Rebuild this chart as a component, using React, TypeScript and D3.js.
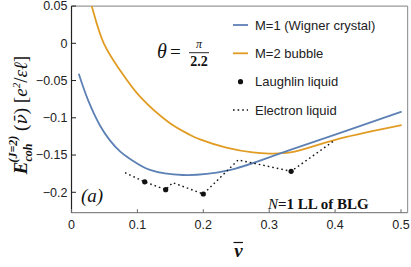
import React from "react";
import * as d3 from "d3";

const blueX = [0.011, 0.025, 0.043, 0.058, 0.074, 0.089, 0.119, 0.169, 0.236, 0.332, 0.501];
const blueY = [-0.041, -0.076, -0.11, -0.13, -0.1455, -0.1553, -0.17, -0.1768, -0.171, -0.1432, -0.0918];

const orangeX = [0.026, 0.0307, 0.049, 0.075, 0.104, 0.1495, 0.18, 0.195, 0.235, 0.275, 0.3, 0.332, 0.408, 0.501];
const orangeY = [0.066, 0.05, 0.0, -0.038, -0.0717, -0.1074, -0.123, -0.129, -0.14, -0.1465, -0.148, -0.1465, -0.1275, -0.1097];

const liquidX = [0.0812, 0.1111, 0.1429, 0.1536, 0.2, 0.253, 0.3333, 0.4];
const liquidY = [-0.1737, -0.186, -0.1965, -0.1871, -0.2023, -0.1566, -0.1718, -0.1298];

const laughlinX = [0.1111, 0.1429, 0.2, 0.3333];
const laughlinY = [-0.186, -0.1965, -0.2023, -0.1718];

const xTicks = [0, 0.1, 0.2, 0.3, 0.4, 0.5];
const xTickLabels = ["0", "0.1", "0.2", "0.3", "0.4", "0.5"];
const yTicks = [0.05, 0, -0.05, -0.1, -0.15, -0.2];
const yTickLabels = ["0.05", "0", "\u22120.05", "\u22120.1", "\u22120.15", "\u22120.2"];

const legendLabels = ["M=1 (Wigner crystal)", "M=2 bubble", "Laughlin liquid", "Electron liquid"];

const BLUE = "#5E81B5";
const ORANGE = "#E19C24";

export default function App() {
  const W = 411, H = 267;
  const x = d3.scaleLinear().domain([0, 0.51]).range([71.5, 407.6]);
  const y = d3.scaleLinear().domain([-0.2274, 0.05]).range([212.7, 6.05]);
  const left = x(0), right = x(0.51), top = y(0.05), bottom = y(-0.2274);

  const smooth = d3
    .line<[number, number]>()
    .x((d) => x(d[0]))
    .y((d) => y(d[1]))
    .curve(d3.curveCatmullRom.alpha(0.5));
  const straight = d3
    .line<[number, number]>()
    .x((d) => x(d[0]))
    .y((d) => y(d[1]));

  const blue = smooth(blueX.map((v, i) => [v, blueY[i]] as [number, number])) || "";
  const orange = smooth(orangeX.map((v, i) => [v, orangeY[i]] as [number, number])) || "";
  const liquid = straight(liquidX.map((v, i) => [v, liquidY[i]] as [number, number])) || "";

  const serif = "'Liberation Serif', 'DejaVu Serif', serif";
  const sans = "'Liberation Sans', Arial, sans-serif";
  const legY = [25, 53.3, 81.7, 110];

  return (
    <svg width={W} height={H} style={{ position: "absolute", left: 0, top: 0 }} xmlns="http://www.w3.org/2000/svg">
      <rect x={0} y={0} width={W} height={H} fill="#fff" />
      <defs>
        <clipPath id="plot">
          <rect x={left} y={top} width={right - left} height={bottom - top} />
        </clipPath>
      </defs>
      {/* frame */}
      <line x1={left} x2={right} y1={top} y2={top} stroke="#999" strokeWidth={1.2} />
      <line x1={right} x2={right} y1={top} y2={bottom} stroke="#999" strokeWidth={1.2} />
      <line x1={left} x2={right} y1={bottom} y2={bottom} stroke="#888" strokeWidth={1.2} />
      <line x1={left} x2={left} y1={top} y2={bottom} stroke="#222" strokeWidth={1.2} />

      {/* y ticks */}
      {yTicks.map((t, i) => (
        <g key={"y" + i}>
          <line x1={left} x2={left + 4.5} y1={y(t)} y2={y(t)} stroke="#222" strokeWidth={1} />
          <text x={left - 4} y={y(t)} dy="0.35em" textAnchor="end" fontFamily={sans} fontSize={12.5} fill="#222">
            {yTickLabels[i]}
          </text>
        </g>
      ))}
      {/* x ticks */}
      {xTicks.map((t, i) => (
        <g key={"x" + i}>
          <line x1={x(t)} x2={x(t)} y1={bottom} y2={bottom - 3.5} stroke="#666" strokeWidth={1} />
          <text x={x(t)} y={bottom + 12} dy="0.35em" textAnchor="middle" fontFamily={sans} fontSize={12.5} fill="#222">
            {xTickLabels[i]}
          </text>
        </g>
      ))}

      <g clipPath="url(#plot)">
        <path d={orange} fill="none" stroke={ORANGE} strokeWidth={1.8} />
        <path d={blue} fill="none" stroke={BLUE} strokeWidth={1.8} />
        <path d={liquid} fill="none" stroke="#111" strokeWidth={1.4} strokeDasharray="1.6,3" />
        {laughlinX.map((v, i) => (
          <circle key={"l" + i} cx={x(v)} cy={y(laughlinY[i])} r={2.6} fill="#111" />
        ))}
      </g>

      {/* legend */}
      <line x1={233} x2={248} y1={legY[0]} y2={legY[0]} stroke={BLUE} strokeWidth={1.8} />
      <line x1={233} x2={248} y1={legY[1]} y2={legY[1]} stroke={ORANGE} strokeWidth={1.8} />
      <circle cx={240.5} cy={legY[2]} r={2.6} fill="#111" />
      <line x1={233} x2={248} y1={legY[3]} y2={legY[3]} stroke="#111" strokeWidth={1.4} strokeDasharray="1.6,3" />
      {legendLabels.map((s, i) => (
        <text key={"t" + i} x={255} y={legY[i]} dy="0.35em" fontFamily={sans} fontSize={13} fill="#222">
          {s}
        </text>
      ))}

      {/* theta annotation */}
      <text x={157} y={58} fontFamily={serif} fontSize={20} fontStyle="italic" fill="#111">θ</text>
      <text x={170} y={58} fontFamily={serif} fontSize={19} fill="#111">=</text>
      <text x={199} y={48} textAnchor="middle" fontFamily={serif} fontSize={12} fontStyle="italic" fill="#111">π</text>
      <line x1={189} x2={209} y1={52.7} y2={52.7} stroke="#111" strokeWidth={0.9} />
      <text x={199} y={66} textAnchor="middle" fontFamily={serif} fontSize={14} fontWeight="bold" fill="#111">2.2</text>

      {/* (a) */}
      <text x={81} y={202} fontFamily={serif} fontSize={19} fontStyle="italic" fill="#111">(a)</text>

      {/* N=1 LL of BLG */}
      <text x={268} y={209} fontFamily={serif} fontSize={15} fill="#111">
        <tspan fontStyle="italic">N</tspan>
        <tspan fontWeight="bold">=1 LL of BLG</tspan>
      </text>

      {/* x label */}
      <text x={238.5} y={257} textAnchor="middle" fontFamily={serif} fontSize={19} fontStyle="italic" fontWeight="bold" fill="#111">
        ν
      </text>
      <line x1={233.5} x2={243} y1={242.5} y2={242.5} stroke="#111" strokeWidth={1.2} />

      {/* y label */}
      <text
        transform="translate(27,115) rotate(-90)"
        textAnchor="middle"
        fontFamily={serif}
        fontSize={19}
        fill="#111"
      >
        <tspan fontWeight="bold" fontStyle="italic">E</tspan>
        <tspan fontSize={12} fontWeight="bold" fontStyle="italic" dy={5}>coh</tspan>
        <tspan fontSize={12} fontWeight="bold" fontStyle="italic" dx={-19} dy={-15}>(J=2)</tspan>
        <tspan dy={10}> (</tspan>
        <tspan fontStyle="italic" fontFamily="'DejaVu Serif', serif" fontSize={17}>ν̄</tspan>
        <tspan>) [</tspan>
        <tspan fontStyle="italic">e</tspan>
        <tspan fontSize={11} dy={-7} fontStyle="italic">2</tspan>
        <tspan dy={7}>/</tspan>
        <tspan fontStyle="italic">εℓ</tspan>
        <tspan>]</tspan>
      </text>
    </svg>
  );
}
